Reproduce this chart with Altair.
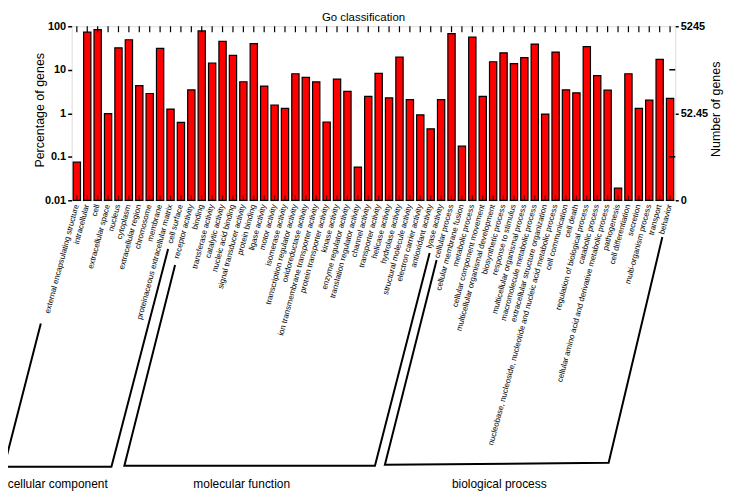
import altair as alt
import pandas as pd

# ---------------- data ----------------
terms = [
    "external encapsulating structure", "intracellular", "cell", "extracellular space",
    "nucleus", "cytoplasm", "extracellular region", "chromosome", "membrane",
    "proteinaceous extracellular matrix", "cell surface",
    "receptor activity", "binding", "transferase activity", "catalytic activity",
    "nucleic acid binding", "signal transducer activity", "protein binding",
    "ligase activity", "motor activity", "isomerase activity",
    "transcription regulator activity", "oxidoreductase activity",
    "ion transmembrane transporter activity", "protein transporter activity",
    "kinase activity", "enzyme regulator activity", "translation regulator activity",
    "channel activity", "transporter activity", "helicase activity",
    "hydrolase activity", "structural molecule activity", "electron carrier activity",
    "antioxidant activity", "lyase activity",
    "cellular process", "cellular membrane fusion", "metabolic process",
    "cellular component movement", "multicellular organismal development",
    "biosynthetic process", "response to stimulus", "multicellular organismal process",
    "macromolecule metabolic process", "extracellular structure organization",
    "nucleobase, nucleoside, nucleotide and nucleic acid metabolic process",
    "cell communication", "cell death", "regulation of biological process",
    "catabolic process", "cellular amino acid and derivative metabolic process",
    "pathogenesis", "cell differentiation", "secretion", "multi-organism process",
    "transport", "behavior",
]
pct = [
    0.075, 73, 84, 0.98, 32, 49, 4.3, 2.85, 31, 1.25, 0.62,
    3.45, 78, 14.3, 45, 21.5, 5.3, 40, 4.2, 1.55, 1.3, 8.1, 6.7, 5.25, 0.63,
    6.1, 3.2, 0.058, 2.45, 8.3, 2.25, 19.5, 2.05, 0.92, 0.44, 2.05,
    68, 0.175, 56, 2.45, 15.3, 24.5, 13.8, 19, 39, 0.96, 25.5, 3.45, 2.95,
    34, 7.3, 3.4, 0.019, 8.1, 1.3, 2.0, 17.3, 2.2,
]
group_names = ["cellular component", "molecular function", "biological process"]

left_ticks = [0.01, 0.1, 1, 10, 100]
right_tick_values = [0.01, 1, 100]
right_tick_labels = ["0", "52.45", "5245"]
right_minor_ticks = [0.1, 10]

# ---------------- layout / style ----------------
W, H = 607, 175
FONT = "Liberation Sans, Arial, sans-serif"
RED = "#ff0000"

# bracket outlines (pixel positions relative to the plot area, annotation only)
BRACKET_PTS = [
    [(-31, 299), (-68, 443), (40, 443), (97, 224)],
    [(104, 240), (53, 442), (305, 442), (360, 228)],
    [(367, 235), (315, 441), (540, 439), (594, 212)],
]
GROUP_LABEL_POS = [(-14, 460), (171, 460), (430, 460)]

df = pd.DataFrame({"term": terms, "pct": pct})

xscale = alt.Scale(domain=terms, paddingInner=0.3, paddingOuter=0.15)
yscale = alt.Scale(type="log", domain=[0.01, 100])

bars = alt.Chart(df).mark_bar(fill=RED, stroke="black", strokeWidth=1.2).encode(
    x=alt.X("term:N", scale=xscale, sort=None,
            axis=alt.Axis(title=None, labelAngle=-75, labelFontSize=8, labelFont=FONT,
                          labelPadding=4, ticks=False, domain=False, labelLimit=400,
                          labelColor="black")),
    y=alt.Y("pct:Q", scale=yscale,
            axis=alt.Axis(title="Percentage of genes", values=left_ticks, format="~g",
                          labelFont=FONT, labelFontSize=11, labelFontWeight="bold",
                          labelColor="black", tickColor="black", tickSize=4,
                          tickWidth=1.5, domain=False, grid=False,
                          titleFont=FONT, titleFontSize=12.5, titleFontWeight="normal",
                          titleColor="black", titleX=-32, titleY=84, titleAngle=270,
                          titleAlign="center", titleBaseline="middle")),
    y2=alt.datum(0.01),
)

expr = " : ".join(
    f"datum.value == {v} ? '{l}'" for v, l in zip(right_tick_values[1:], right_tick_labels[1:])
) + f" : '{right_tick_labels[0]}'"

right_axis = alt.Chart(df).mark_bar(opacity=0).encode(
    x=alt.X("term:N", scale=xscale, sort=None, axis=None),
    y=alt.Y("pct:Q", scale=yscale,
            axis=alt.Axis(orient="right", title="Number of genes", values=right_tick_values,
                          labelExpr=expr, labelFont=FONT, labelFontSize=11,
                          labelFontWeight="bold", labelColor="black", tickColor="black",
                          tickSize=3, tickWidth=1.5, domain=False, grid=False,
                          titleFont=FONT, titleFontSize=12.5, titleFontWeight="normal",
                          titleColor="black", titleAngle=270, titleX=40, titleY=83,
                          titleAlign="center", titleBaseline="middle")),
)

minor_df = pd.DataFrame({"v": right_minor_ticks})
right_minor = alt.Chart(minor_df).mark_rule(color="black", strokeWidth=1.5).encode(
    y=alt.Y("v:Q", scale=yscale, axis=None),
    x=alt.value(W - 6), x2=alt.value(W),
)

top_ticks = alt.Chart(df).mark_rule(color="black", strokeWidth=1.2).encode(
    x=alt.X("term:N", scale=xscale, sort=None, axis=None),
    y=alt.value(0), y2=alt.value(6),
)
bottom_ticks = alt.Chart(df).mark_rule(color="#400000", strokeWidth=1.2, opacity=0.8).encode(
    x=alt.X("term:N", scale=xscale, sort=None, axis=None),
    y=alt.value(H - 5), y2=alt.value(H),
)

br_rows = []
for g, pts in zip(group_names, BRACKET_PTS):
    for i, (px, py) in enumerate(pts):
        br_rows.append({"grp": g, "ord": i, "bx": px, "by": py})
br_df = pd.DataFrame(br_rows)
brackets = alt.Chart(br_df).mark_line(color="black", strokeWidth=2).encode(
    x=alt.X("bx:Q", scale=None, axis=None),
    y=alt.Y("by:Q", scale=None, axis=None),
    detail="grp:N",
    order="ord:Q",
)

gl_df = pd.DataFrame({
    "name": group_names,
    "gx": [p[0] for p in GROUP_LABEL_POS],
    "gy": [p[1] for p in GROUP_LABEL_POS],
})
group_text = alt.Chart(gl_df).mark_text(font=FONT, fontSize=12, color="black",
                                        baseline="middle", align="center").encode(
    x=alt.X("gx:Q", scale=None, axis=None),
    y=alt.Y("gy:Q", scale=None, axis=None),
    text="name:N",
)

chart = alt.layer(
    bars, right_axis, right_minor, top_ticks, bottom_ticks, brackets, group_text
).resolve_scale(x="independent", y="independent").properties(
    width=W, height=H,
    title=alt.TitleParams("Go classification", font=FONT, fontSize=11.5, fontWeight="normal",
                          color="black", offset=4, dy=7, dx=-10, frame="group"),
    autosize=alt.AutoSizeParams(type="none"),
    padding={"left": 64, "top": 17, "right": 49, "bottom": 294},
).configure_view(stroke="black", strokeWidth=2).configure(background="white")

chart.save("out.html", embed_options={"renderer": "svg", "actions": False})
